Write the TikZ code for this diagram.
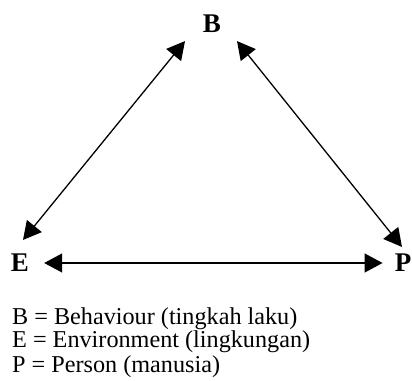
\documentclass[tikz,border=0pt]{standalone}
\usepackage{fontspec}
\setmainfont{Liberation Serif}
\usetikzlibrary{arrows.meta,calc}

\tikzset{
  letter/.style={font=\fontsize{27}{29}\selectfont\bfseries, inner sep=0pt},
  legend/.style={font=\fontsize{24.2}{26}\selectfont, inner sep=0pt, anchor=base west},
  biarrow/.style={line width=1.3pt, {Triangle[length=18pt,width=19pt]}-{Triangle[length=18pt,width=19pt]}}
}

\begin{document}
\begin{tikzpicture}[x=1pt,y=1pt]
\useasboundingbox (0,0) rectangle (412,380);

% the three letters
\node[letter] (B) at (212,356) {B};
\node[letter] (E) at (20,117) {E};
\node[letter] (P) at (403,117) {P};

% arrows between them
\draw[biarrow] ($(E.north)+(3,14)$) -- ($(B.south)+(-27,-8)$);
\draw[biarrow] ($(B.south)+(25,-8)$) -- ($(P.north)+(-1,7)$);
\draw[biarrow] ($(E.east)+(15,0)$) -- ($(P.west)+(-12,0)$);

% legend
\node[legend] (legB) at (12,56) {B = Behaviour (tingkah laku)};
\node[legend] (legE) at (12,32) {E = Environment (lingkungan)};
\node[legend] (legP) at (12,8) {P = Person (manusia)};

\end{tikzpicture}
\end{document}
